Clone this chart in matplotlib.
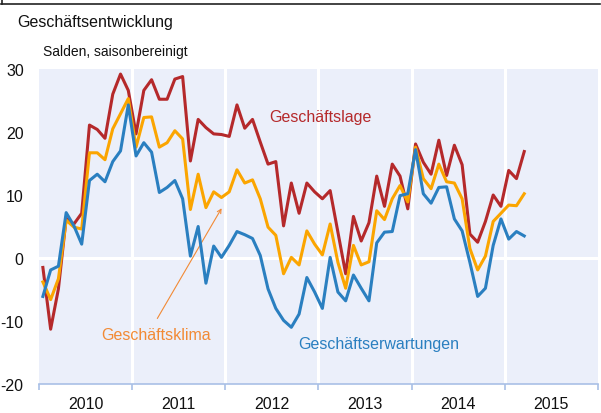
import numpy as np
import matplotlib.pyplot as plt
from matplotlib.lines import Line2D

plt.rcParams['font.family'] = ['Liberation Sans', 'DejaVu Sans']

# Monatswerte Jan 2010 - Mär 2015 (Salden, saisonbereinigt)
lage = [-1.5, -11.3, -4.9, 6.3, 5.4, 7.1, 21.1, 20.4, 19.0, 26.0, 29.2, 26.6,
        19.7, 26.6, 28.3, 25.2, 25.2, 28.4, 28.8, 15.4, 22.0, 20.7, 19.7, 19.6,
        19.3, 24.3, 20.6, 22.0, 18.4, 14.9, 15.3, 5.1, 11.9, 7.1, 11.9, 10.5,
        9.4, 10.7, 4.1, -2.5, 6.6, 2.7, 5.6, 13.0, 8.2, 14.9, 13.0, 7.8,
        18.1, 15.2, 13.3, 18.7, 13.1, 17.9, 14.8, 3.8, 2.5, 5.8, 10.0, 8.2,
        13.9, 12.6, 16.9]
klima = [-3.8, -6.6, -3.3, 6.0, 4.9, 4.6, 16.7, 16.7, 15.6, 20.5, 22.9, 25.3,
         17.6, 22.3, 22.4, 17.6, 18.3, 20.2, 18.9, 7.7, 13.3, 8.0, 10.5, 9.6,
         10.5, 14.0, 11.9, 12.4, 9.4, 4.9, 3.6, -2.5, 0.1, -1.1, 4.3, 2.2,
         0.5, 5.4, -0.7, -4.8, 2.0, -1.1, -0.6, 7.5, 6.1, 9.4, 11.5, 8.9,
         17.6, 12.6, 11.0, 14.9, 12.1, 11.9, 9.4, 1.5, -1.9, 0.3, 5.8, 7.1,
         8.4, 8.3, 10.2]
erwartungen = [-6.1, -1.9, -1.3, 7.2, 5.1, 2.2, 12.3, 13.3, 12.1, 15.3, 17.0, 24.3,
               16.2, 18.3, 16.8, 10.4, 11.2, 12.3, 9.4, 0.3, 5.0, -4.0, 1.9, 0.1,
               2.0, 4.2, 3.7, 3.1, 0.4, -4.9, -8.0, -9.9, -11.0, -8.9, -3.1, -5.4,
               -8.0, 0.1, -5.4, -6.8, -2.7, -4.8, -6.8, 2.4, 4.1, 4.2, 9.9, 10.2,
               17.2, 10.2, 8.7, 11.2, 11.3, 6.2, 4.3, -0.7, -6.1, -4.8, 2.0, 6.2,
               3.0, 4.2, 3.5]
jahre = [2010, 2011, 2012, 2013, 2014, 2015]
yticks = [-20, -10, 0, 10, 20, 30]

# x in Jahren, Monatsmitte
x = 2010 + (np.arange(len(lage)) + 0.5) / 12

c_lage = '#b5292b'
c_klima = '#fba500'
c_erw = '#2a7fc0'
fs = 11.5

fig = plt.figure(figsize=(6.01, 4.14), dpi=100)
ax = fig.add_axes([39/601, 29/414, 559/601, 315/414])
ax.set_facecolor('#ebeffa')

# Gitter: Jahresgrenzen und Nulllinie
for j in jahre[1:]:
    ax.axvline(j, color='white', lw=2.2, zorder=1)
ax.axhline(0, color='white', lw=2.2, zorder=1)

ax.plot(x, lage, color=c_lage, lw=2.2, zorder=3)
ax.plot(x, klima, color=c_klima, lw=2.2, zorder=3)
ax.plot(x, erwartungen, color=c_erw, lw=2.2, zorder=4)

ax.set_xlim(2010, 2016)
ax.set_ylim(-20, 30)

# Beschriftungen
ax.text(2013.02, 22.4, 'Geschäftslage', color=c_lage, fontsize=fs,
        ha='center', va='center')
ax.text(2013.65, -13.65, 'Geschäftserwartungen', color=c_erw, fontsize=fs,
        ha='center', va='center')
ax.text(2011.26, -12.2, 'Geschäftsklima', color='#f28a35', fontsize=fs,
        ha='center', va='center')
ax.annotate('', xy=(2011.96, 7.9), xytext=(2011.27, -9.6),
            arrowprops=dict(arrowstyle='->', color='#f28a35', lw=0.8,
                            shrinkA=0, shrinkB=0, mutation_scale=7))

# Achsen
for s in ['top', 'right', 'left']:
    ax.spines[s].set_visible(False)
ax.spines['bottom'].set_color('#a9c0e6')
ax.spines['bottom'].set_linewidth(1.2)

ax.set_yticks(yticks)
ax.set_yticklabels([str(v) for v in yticks])
ax.tick_params(axis='y', length=0, pad=11, labelsize=fs, labelcolor='#111111')

ax.set_xticks(jahre + [2016])
ax.set_xticklabels([])
ax.tick_params(axis='x', which='major', length=4, color='#a9c0e6', width=1.2)
ax.set_xticks([j + 0.5 for j in jahre], minor=True)
ax.set_xticklabels([str(j) for j in jahre], minor=True)
ax.tick_params(axis='x', which='minor', length=0, pad=9, labelsize=fs,
               labelcolor='#111111')

fig.text(17/601, 1 - 22/414, 'Geschäftsentwicklung', fontsize=11.5,
         ha='left', va='center', color='#111111')
fig.text(43/601, 1 - 52/414, 'Salden, saisonbereinigt', fontsize=10,
         ha='left', va='center', color='#111111')

# Rahmenlinie oben
fig.add_artist(Line2D([1/601, 600/601], [1 - 4.5/414, 1 - 4.5/414],
                      color='#222222', lw=1.2, transform=fig.transFigure))
fig.add_artist(Line2D([1.5/601, 1.5/601], [1 - 4.5/414, 1.0],
                      color='#222222', lw=1.2, transform=fig.transFigure))

fig.savefig('out.png', dpi=100)
